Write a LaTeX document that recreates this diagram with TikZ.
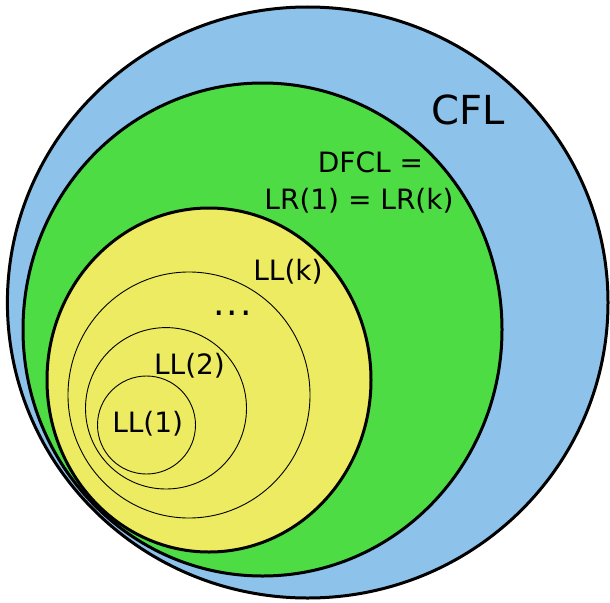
\documentclass[tikz,border=0pt]{standalone}
\usepackage{fontspec}
\setmainfont{DejaVu Sans}
\definecolor{cflblue}{RGB}{141,195,234}
\definecolor{dcflgreen}{RGB}{78,220,68}
\definecolor{llyellow}{RGB}{237,235,98}
\tikzset{
  classset/.style={draw=black, line width=3pt},
  llset/.style={draw=black, line width=0.9pt},
  lbl/.style={inner sep=0pt, anchor=base, font=\fontsize{28}{34}\selectfont},
}
\begin{document}
\begin{tikzpicture}[x=1pt, y=-1pt]
  \useasboundingbox (0,0) rectangle (610,602);
  % nested language classes
  \draw[classset, fill=cflblue]   (307.7,302.5) ellipse [x radius=300.3, y radius=295.5];
  \draw[classset, fill=dcflgreen] (262.5,329.5) ellipse [x radius=239.5, y radius=246.5];
  \draw[classset, fill=llyellow]  (209,380)     ellipse [x radius=162,   y radius=172];
  \draw[llset] (189,395)     ellipse [x radius=121,  y radius=123];
  \draw[llset] (166,408.3)   ellipse [x radius=80.5, y radius=80.7];
  \draw[llset] (146.5,425)   ellipse [x radius=49,   y radius=49];
  % labels
  \node[lbl, font=\fontsize{40}{48}\selectfont] (cfl) at (468,124.5) {CFL};
  \node[lbl] (dcfl) at (370.5,172.3) {DFCL =};
  \node[lbl] (lr) at (359,209) {LR(1) = LR(k)};
  \node[lbl] (llk) at (288,280.7) {LL(k)};
  \node[lbl, font=\fontsize{36}{40}\selectfont] (dots) at (232.7,315) {.\kern1.6pt.\kern1.6pt.};
  \node[lbl] (ll2) at (189.5,374.3) {LL(2)};
  \node[lbl] (ll1) at (147.7,432.7) {LL(1)};
\end{tikzpicture}
\end{document}
